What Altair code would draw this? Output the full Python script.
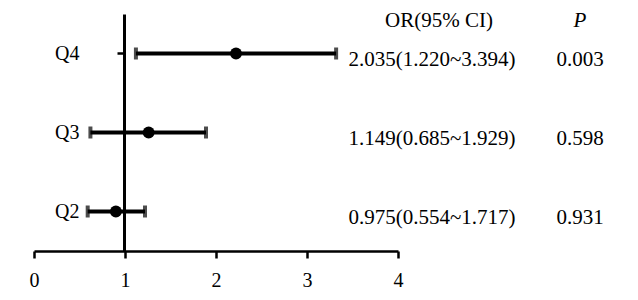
import altair as alt
import pandas as pd

groups = ["Q4", "Q3", "Q2"]
or_point = [2.22, 1.26, 0.90]
ci_low = [1.12, 0.62, 0.59]
ci_high = [3.32, 1.89, 1.22]
or_text = ["2.035(1.220~3.394)", "1.149(0.685~1.929)", "0.975(0.554~1.717)"]
p_text = ["0.003", "0.598", "0.931"]
x_ticks = [0, 1, 2, 3, 4]

df = pd.DataFrame({
    "group": groups, "or": or_point, "lo": ci_low, "hi": ci_high,
    "ortxt": or_text, "ptxt": p_text,
})

FONT = "Liberation Serif"

xs = alt.Scale(domain=[0, 4], nice=False, zero=False)
ys = alt.Scale(domain=groups, paddingInner=0, paddingOuter=0)

xenc = alt.X("lo:Q", scale=xs, axis=alt.Axis(
    values=x_ticks, format="d", title=None, grid=False,
    domainColor="black", domainWidth=2.5, tickColor="black", tickWidth=2.5,
    tickSize=7, labelFontSize=20, labelFont=FONT, labelColor="black",
    labelPadding=12, labelFlush=False))
yenc = alt.Y("group:N", scale=ys, sort=groups, axis=alt.Axis(
    title=None, grid=False, offset=-90, domainColor="black", domainWidth=3,
    tickColor="black", tickWidth=2.5, tickSize=7, labelFontSize=20,
    labelFont=FONT, labelColor="black", labelPadding=38))

base = alt.Chart(df)
yq = alt.Y("group:N", scale=ys, sort=groups)

bars = base.mark_rule(color="black", strokeWidth=4).encode(
    x=xenc, x2="hi:Q", y=yenc)
cap_lo = base.mark_tick(color="black", thickness=4, size=12, orient="vertical").encode(
    x=alt.X("lo:Q", scale=xs), y=yq)
cap_hi = base.mark_tick(color="black", thickness=4, size=12, orient="vertical").encode(
    x=alt.X("hi:Q", scale=xs), y=yq)
pts = base.mark_point(filled=True, shape="circle", size=140, color="black", opacity=1).encode(
    x=alt.X("or:Q", scale=xs), y=yq)

txt_or = base.mark_text(font=FONT, fontSize=21, color="black", align="center",
                        baseline="middle", dy=6).encode(
    x=alt.value(398), y=yq, text="ortxt:N")
txt_p = base.mark_text(font=FONT, fontSize=21, color="black", align="center",
                       baseline="middle", dy=6).encode(
    x=alt.value(546), y=yq, text="ptxt:N")

hdr = pd.DataFrame({"t": ["OR(95% CI)"]})
hdr_or = alt.Chart(hdr).mark_text(font=FONT, fontSize=21, color="black",
                                  align="center", baseline="middle").encode(
    x=alt.value(405), y=alt.value(7), text="t:N")
hdrp = pd.DataFrame({"t": ["P"]})
hdr_p = alt.Chart(hdrp).mark_text(font=FONT, fontSize=21, color="black",
                                  fontStyle="italic", align="center",
                                  baseline="middle").encode(
    x=alt.value(546), y=alt.value(7), text="t:N")

chart = alt.layer(bars, cap_lo, cap_hi, pts, txt_or, txt_p, hdr_or, hdr_p).properties(
    width=364, height=237,
    autosize=alt.AutoSizeParams(type="none"),
    padding={"left": 34, "top": 14, "right": 240, "bottom": 49},
    background="white",
).configure_view(stroke=None)

chart.save("out.html", embed_options={"renderer": "svg", "actions": False})
